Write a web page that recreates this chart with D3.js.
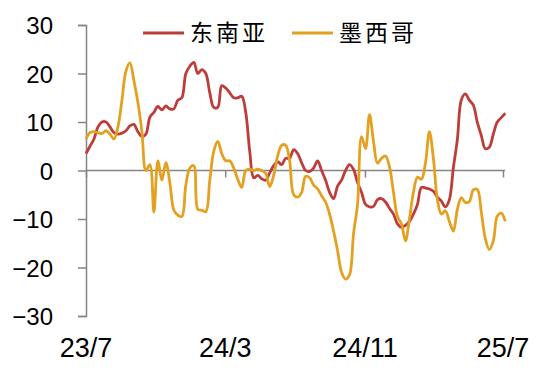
<!DOCTYPE html>
<html>
<head>
<meta charset="utf-8">
<script src="https://cdn.jsdelivr.net/npm/d3@7"></script>
<style>
  html, body { margin: 0; padding: 0; background: #fff; }
  svg { display: block; }
  .tick-label { font-family: "Liberation Sans", Arial, sans-serif; fill: #000; }
  .legend-text { font-family: "Noto Sans CJK SC", sans-serif; fill: #000; }
</style>
</head>
<body>
<svg id="chart" width="556" height="376"></svg>
<script>
// weekly series, starting 2023-07-01
const startDate = "2023-07-01";
const seriesNames = ["东南亚", "墨西哥"];
const seriesColors = ["#BD3D3A", "#E3A11F"];

const seaValues = [
  3.5, 5, 6.5, 9, 10, 10, 9, 7.8, 7.5, 7.7,
  8.2, 9.2, 9.5, 8, 7, 7.5, 11, 12, 13.2, 12.5,
  13.3, 12.7, 12.7, 14.5, 15, 20, 21.5, 22.3, 20, 20.8,
  20, 16, 13, 13, 17.5, 17, 16, 15, 15, 15.3,
  12, 4, -1.5, -1, -1.7, -2, -0.5, 1, 1.8, 1.2,
  2.5, 2.5, 4.3, 3.5, 1.6, 0, -0.2, 0.5, 2, 0,
  -2, -4.5, -5.8, -3.2, -2, 0, 1.2, 0.2, -2.5, -4.5,
  -7, -7.5, -7.4, -6, -5.8, -6.5, -7.8, -9, -11, -11.7,
  -11.3, -10.5, -9, -7, -3.5, -3.6, -3.8, -4.3, -5.5, -6.3,
  -7.5, -6, 0.6, 6.4, 14.6, 15.8, 14.5, 13.5, 9.9, 7.2,
  4.5, 4.8, 7.5, 10, 10.9, 11.8
];

const mexValues = [
  6.5, 7.8, 8, 7.8, 7.6, 8.2, 7.5, 6.5, 9, 14.5,
  20.5, 22.2, 18.5, 14, 8, 0, 1.2, -8.6, 2, -2,
  1.6, -2.5, -8.2, -9.2, -9.5, -3, 0.5, 1, -8, -8.2,
  -8.5, -2, 4, 6, 3.5, 2, 2, 0.5, -1.8, -3.5,
  0, 0.3, 0, 0.3, 0, -0.6, -3.3, -1, 3, 5.2,
  5.2, 2, -5, -5.5, -4.5, -1.2, -1.5, -3, -3.8, -5.2,
  -6.5, -9, -12.5, -16.5, -21, -22.4, -21.5, -13, -7, 7,
  4.5, 11.5, 6, 1.5, 2.5, 3, 0.8, -4.5, -9.5, -11,
  -14.5, -10, -4.5, -1.4, -1.8, 1.5, 8, 2.5, -6, -9,
  -8.3, -10.5, -12.5, -8, -5.6, -6.6, -6.4, -4, -3.9, -8.6,
  -14, -16.3, -14.5, -9.4, -8.8, -10.5
];

const yTicks = [-30, -20, -10, 0, 10, 20, 30];
const xTickDates = ["2023-07-01", "2024-03-01", "2024-11-01", "2025-07-01"];
const xTickLabels = ["23/7", "24/3", "24/11", "25/7"];

const svg = d3.select("#chart");
const parse = d3.timeParse("%Y-%m-%d");
const t0 = parse(startDate);

const x = d3.scaleTime()
  .domain([parse(xTickDates[0]), parse(xTickDates[3])])
  .range([86, 503]);
const y = d3.scaleLinear().domain([-30, 30]).range([316, 25]);

const axisColor = "#858585";

// y axis
const yAxis = svg.append("g")
  .attr("transform", "translate(86,0)")
  .call(d3.axisLeft(y).tickValues(yTicks).tickSize(8).tickPadding(25).tickFormat(d3.format("d")));
yAxis.select(".domain").attr("stroke", axisColor).attr("stroke-width", 1.5);
yAxis.selectAll(".tick line").attr("stroke", axisColor).attr("stroke-width", 1.5);
yAxis.selectAll(".tick text")
  .attr("class", "tick-label")
  .style("font-size", "24px")
  .attr("dy", "0.36em");

// x axis along zero line
const xAxis = svg.append("g")
  .attr("transform", `translate(0,${y(0)})`)
  .call(d3.axisBottom(x).tickValues(xTickDates.map(parse)).tickSize(7).tickSizeOuter(0).tickFormat(""));
xAxis.select(".domain").attr("stroke", axisColor).attr("stroke-width", 1.5)
  .attr("d", `M86,0H505`);
xAxis.selectAll(".tick line").attr("stroke", axisColor).attr("stroke-width", 1.5);

// x labels at bottom
svg.append("g").selectAll("text")
  .data(xTickDates)
  .join("text")
  .attr("class", "tick-label")
  .attr("x", d => x(parse(d)))
  .attr("y", 357)
  .attr("text-anchor", "middle")
  .style("font-size", "27px")
  .text((d, i) => xTickLabels[i]);

// lines
const line = d3.line()
  .x((d, i) => x(d3.timeDay.offset(t0, 7 * i)))
  .y(d => y(d))
  .curve(d3.curveCatmullRom.alpha(0.5));

[seaValues, mexValues].forEach((vals, k) => {
  svg.append("path")
    .datum(vals)
    .attr("fill", "none")
    .attr("stroke", seriesColors[k])
    .attr("stroke-width", 2.8)
    .attr("stroke-linejoin", "round")
    .attr("d", line);
});

// legend
const legendX = [143, 292];
seriesNames.forEach((name, k) => {
  const lg = svg.append("g").attr("transform", `translate(${legendX[k]},33)`);
  lg.append("line")
    .attr("x1", 0).attr("x2", 41)
    .attr("stroke", seriesColors[k])
    .attr("stroke-width", 2.8);
  lg.append("text")
    .attr("class", "legend-text")
    .attr("x", 47)
    .attr("dy", "0.36em")
    .style("font-size", "23px")
    .style("letter-spacing", "3px")
    .text(name);
});
</script>
</body>
</html>
